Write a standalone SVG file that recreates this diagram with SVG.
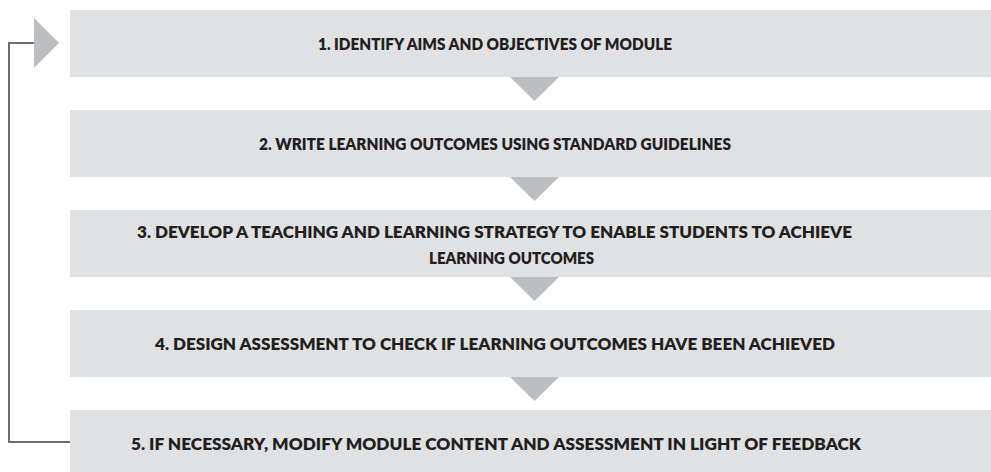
<svg xmlns="http://www.w3.org/2000/svg" width="991" height="472" viewBox="0 0 991 472">
<style>
.box{fill:#e0e1e3}
.lbl{font-family:Lato,"Liberation Sans",sans-serif;font-weight:800;font-size:17.5px;fill:#231f20;text-anchor:middle}
.arr{fill:#bcbec0}
.fb{fill:none;stroke:#6d6e71;stroke-width:2}
</style>
<rect width="991" height="472" fill="#ffffff"/>
<g id="connectors">
<polygon class="arr" points="510,77 559,77 534.5,101"/>
<polygon class="arr" points="510,177 559,177 534.5,201"/>
<polygon class="arr" points="510,277 559,277 534.5,301"/>
<polygon class="arr" points="510,377 559,377 534.5,401"/>
<polyline class="fb" points="70,442 9,442 9,43 35,43"/>
<polygon class="arr" points="34,18 59,43 34,68"/>
</g>
<g id="step1">
<rect class="box" x="70" y="10" width="921" height="67"/>
<text class="lbl" x="495" y="50" textLength="354" lengthAdjust="spacingAndGlyphs">1. IDENTIFY AIMS AND OBJECTIVES OF MODULE</text>
</g>
<g id="step2">
<rect class="box" x="70" y="110" width="921" height="67"/>
<text class="lbl" x="495" y="150" textLength="472" lengthAdjust="spacingAndGlyphs">2. WRITE LEARNING OUTCOMES USING STANDARD GUIDELINES</text>
</g>
<g id="step3">
<rect class="box" x="70" y="210" width="921" height="67"/>
<text class="lbl" x="494.5" y="238" textLength="715" lengthAdjust="spacingAndGlyphs">3. DEVELOP A TEACHING AND LEARNING STRATEGY TO ENABLE STUDENTS TO ACHIEVE</text>
<text class="lbl" x="429" y="264" style="text-anchor:start" textLength="165" lengthAdjust="spacingAndGlyphs">LEARNING OUTCOMES</text>
</g>
<g id="step4">
<rect class="box" x="70" y="310" width="921" height="67"/>
<text class="lbl" x="495" y="350" textLength="680" lengthAdjust="spacingAndGlyphs">4. DESIGN ASSESSMENT TO CHECK IF LEARNING OUTCOMES HAVE BEEN ACHIEVED</text>
</g>
<g id="step5">
<rect class="box" x="70" y="410" width="921" height="62"/>
<text class="lbl" x="496" y="450" textLength="730" lengthAdjust="spacingAndGlyphs">5. IF NECESSARY, MODIFY MODULE CONTENT AND ASSESSMENT IN LIGHT OF FEEDBACK</text>
</g>
</svg>
